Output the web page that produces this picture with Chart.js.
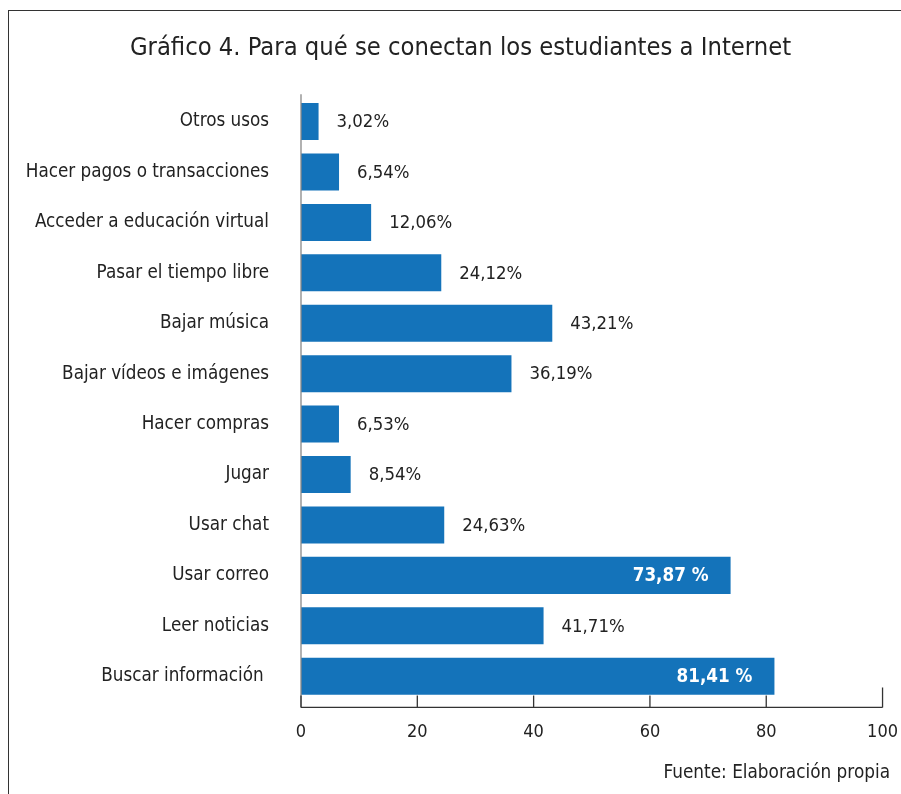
<!DOCTYPE html>
<html>

<head>
    <meta charset="utf-8">
    <title>Gráfico 4</title>

    <style>
        body {
            margin: 0;
            background: #fff;
            font-family: "Liberation Sans Narrow", "DejaVu Sans Condensed", sans-serif;
        }

        #marco {
            position: absolute;
            left: 8px;
            top: 10px;
            width: 893px;
            height: 784px;
            border-left: 1.5px solid #333;
            border-top: 1.5px solid #333;
        }

        #grafico {
            position: absolute;
            left: 0;
            top: 0;
        }

        #fuente {
            position: absolute;
            right: 11px;
            top: 761px;
            font-size: 18.8px;
            color: #222;
        }
    </style>
</head>

<body>
    <div id="marco"></div>
    <canvas id="grafico" width="901" height="794"></canvas>
    <div id="fuente">Fuente: Elaboración propia</div>

    <script src="https://cdn.jsdelivr.net/npm/chart.js"></script>

    <script>
        const titulo = 'Gráfico 4. Para qué se conectan los estudiantes a Internet';
        const categorias = [
            'Otros usos',
            'Hacer pagos o transacciones',
            'Acceder a educación virtual',
            'Pasar el tiempo libre',
            'Bajar música',
            'Bajar vídeos e imágenes',
            'Hacer compras',
            'Jugar',
            'Usar chat',
            'Usar correo',
            'Leer noticias',
            'Buscar información '
        ];
        const valores = [3.02, 6.54, 12.06, 24.12, 43.21, 36.19, 6.53, 8.54, 24.63, 73.87, 41.71, 81.41];
        const ticksX = [0, 20, 40, 60, 80, 100];

        const fuente = '"Liberation Sans Narrow", "DejaVu Sans Condensed", sans-serif';
        Chart.defaults.font.family = fuente;
        Chart.defaults.color = '#222';

        // etiquetas de valor junto a cada barra
        const etiquetasValor = {
            id: 'etiquetasValor',
            afterDatasetsDraw(chart) {
                const ctx = chart.ctx;
                const meta = chart.getDatasetMeta(0);
                meta.data.forEach((bar, i) => {
                    const v = valores[i];
                    const txt = v.toFixed(2).replace('.', ',');
                    ctx.save();
                    ctx.textBaseline = 'middle';
                    if (v > 60) {
                        ctx.font = 'bold 18.7px ' + fuente;
                        ctx.fillStyle = '#fff';
                        ctx.textAlign = 'right';
                        ctx.fillText(txt + ' %', bar.x - 22, bar.y + 1);
                    } else {
                        ctx.font = '18.4px ' + fuente;
                        ctx.fillStyle = '#222';
                        ctx.textAlign = 'left';
                        ctx.fillText(txt + '%', bar.x + 18, bar.y + 1);
                    }
                    ctx.restore();
                });
            }
        };

        // ejes con marcas hacia arriba
        const ejes = {
            id: 'ejes',
            afterDraw(chart) {
                const ctx = chart.ctx;
                const area = chart.chartArea;
                const x = chart.scales.x;
                const y0 = area.bottom + 6;
                const x0 = x.getPixelForValue(0);
                ctx.save();
                ctx.lineWidth = 1.3;
                ctx.strokeStyle = '#888';
                ctx.beginPath();
                ctx.moveTo(x0, area.top - 2);
                ctx.lineTo(x0, y0);
                ctx.stroke();
                ctx.strokeStyle = '#333';
                ctx.beginPath();
                ctx.moveTo(x0, y0);
                ctx.lineTo(x.getPixelForValue(100), y0);
                x.ticks.forEach(t => {
                    const px = x.getPixelForValue(t.value);
                    const largo = t.value === 100 ? 20 : 12;
                    ctx.moveTo(px, y0);
                    ctx.lineTo(px, y0 - largo);
                });
                ctx.stroke();
                ctx.restore();
            }
        };

        new Chart(document.getElementById('grafico'), {
            type: 'bar',
            data: {
                labels: categorias,
                datasets: [{
                    data: valores,
                    backgroundColor: '#1473BA',
                    barPercentage: 0.735,
                    categoryPercentage: 1
                }]
            },
            options: {
                indexAxis: 'y',
                responsive: false,
                animation: false,
                layout: {
                    padding: { left: 20, right: 0, top: 0, bottom: 48 }
                },
                plugins: {
                    legend: { display: false },
                    tooltip: { enabled: false },
                    title: {
                        display: true,
                        text: titulo,
                        color: '#222',
                        font: { size: 25.3, weight: 'normal' },
                        padding: { top: 33, bottom: 33 }
                    }
                },
                scales: {
                    x: {
                        min: 0,
                        max: 100,
                        afterBuildTicks(scale) {
                            scale.ticks = ticksX.map(v => ({ value: v }));
                        },
                        grid: { display: false, drawTicks: true, tickLength: 17 },
                        border: { display: false },
                        ticks: { color: '#222', font: { size: 18 }, padding: 3 }
                    },
                    y: {
                        afterFit(scale) {
                            scale.width = 281;
                        },
                        grid: { display: false, drawTicks: false },
                        border: { display: false },
                        ticks: { color: '#222', font: { size: 18.7 }, padding: 32 }
                    }
                }
            },
            plugins: [etiquetasValor, ejes]
        });
    </script>
</body>

</html>
